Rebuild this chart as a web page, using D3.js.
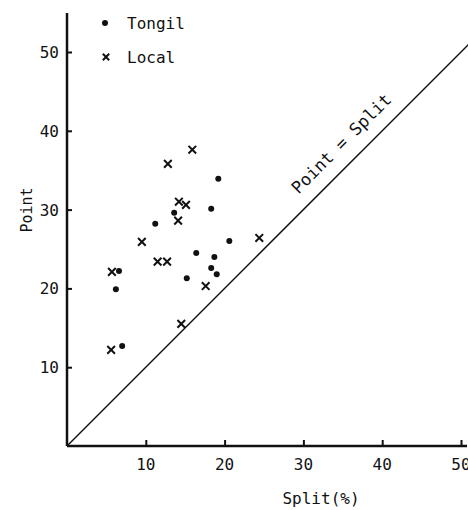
<!DOCTYPE html>
<html>
<head>
<meta charset="utf-8">
<script src="https://cdn.jsdelivr.net/npm/d3@7"></script>
<style>
  body { margin: 0; background: #fff; }
  text { font-family: "DejaVu Sans Mono", monospace; fill: #111; }
</style>
</head>
<body>
<div id="chart"></div>
<script>
// tick values
const xTicks = [10, 20, 30, 40, 50];
const yTicks = [10, 20, 30, 40, 50];

// Tongil varieties (split %, point)
const tongilSplit = [19.2, 18.3, 13.6, 11.2, 20.6, 16.4, 18.7, 6.6, 18.3, 19.0, 15.2, 6.2, 7.0];
const tongilPoint = [33.9, 30.1, 29.6, 28.2, 26.0, 24.5, 24.0, 22.2, 22.6, 21.8, 21.3, 19.9, 12.7];

// Local varieties
const localSplit = [15.9, 12.8, 14.2, 15.1, 14.1, 9.5, 11.5, 12.7, 5.7, 17.6, 14.5, 5.6, 24.4];
const localPoint = [37.6, 35.8, 31.0, 30.6, 28.6, 25.9, 23.4, 23.4, 22.1, 20.3, 15.5, 12.2, 26.4];

const W = 468, H = 510;

const svg = d3.select("#chart").append("svg")
  .attr("width", W)
  .attr("height", H);

// scales
const x = d3.scaleLinear().domain([0, 50]).range([67, 461]);
const y = d3.scaleLinear().domain([0, 50]).range([446, 52]);

const tongil = tongilSplit.map((d, i) => ({s: d, p: tongilPoint[i]}));
const local = localSplit.map((d, i) => ({s: d, p: localPoint[i]}));

// axes
const xAxis = d3.axisTop(x).tickValues(xTicks).tickSize(6).tickFormat("");
svg.append("g")
  .attr("transform", "translate(0," + y(0) + ")")
  .call(xAxis)
  .call(g => g.select(".domain").remove())
  .selectAll("line").attr("stroke", "#111").attr("stroke-width", 2);

svg.append("line")
  .attr("x1", x(0)).attr("x2", 467)
  .attr("y1", y(0)).attr("y2", y(0))
  .attr("stroke", "#111").attr("stroke-width", 2.5);

const yAxis = d3.axisRight(y).tickValues(yTicks).tickSize(5).tickFormat("");
svg.append("g")
  .attr("transform", "translate(" + x(0) + ",0)")
  .call(yAxis)
  .call(g => g.select(".domain").remove())
  .selectAll("line").attr("stroke", "#111").attr("stroke-width", 2);

svg.append("line")
  .attr("x1", x(0)).attr("x2", x(0))
  .attr("y1", y(0)).attr("y2", 13)
  .attr("stroke", "#111").attr("stroke-width", 2.5);

// tick labels
svg.selectAll(".xlab").data(xTicks).enter().append("text")
  .attr("x", d => x(d))
  .attr("y", y(0) + 24)
  .attr("text-anchor", "middle")
  .style("font-size", "16px")
  .text(d => d);

svg.selectAll(".ylab").data(yTicks).enter().append("text")
  .attr("x", x(0) - 8)
  .attr("y", d => y(d) + 6)
  .attr("text-anchor", "end")
  .style("font-size", "16px")
  .text(d => d);

// axis titles
svg.append("text")
  .attr("x", 321).attr("y", 504)
  .attr("text-anchor", "middle")
  .style("font-size", "16px")
  .text("Split(%)");

svg.append("text")
  .attr("transform", "translate(32,210)rotate(-90)")
  .attr("text-anchor", "middle")
  .style("font-size", "15px")
  .text("Point");

// Point = Split line
svg.append("line")
  .attr("x1", x(0)).attr("y1", y(0))
  .attr("x2", x(51)).attr("y2", y(51))
  .attr("stroke", "#111").attr("stroke-width", 1.5);

svg.append("text")
  .attr("transform", "translate(" + x(36.6) + "," + y(36.6) + ")rotate(-45)translate(0,-14)")
  .attr("text-anchor", "middle")
  .style("font-size", "17px")
  .text("Point = Split");

// marks
svg.selectAll(".dot").data(tongil).enter().append("circle")
  .attr("cx", d => x(d.s))
  .attr("cy", d => y(d.p))
  .attr("r", 3)
  .attr("fill", "#111");

const cross = d3.symbol().type(d3.symbolX).size(40);
svg.selectAll(".cross").data(local).enter().append("path")
  .attr("transform", d => "translate(" + x(d.s) + "," + y(d.p) + ")")
  .attr("d", cross)
  .attr("fill", "none")
  .attr("stroke", "#111")
  .attr("stroke-width", 2);

// legend
svg.append("circle").attr("cx", 105).attr("cy", 23).attr("r", 3).attr("fill", "#111");
svg.append("text").attr("x", 127).attr("y", 29).style("font-size", "16px").text("Tongil");
svg.append("path")
  .attr("transform", "translate(106,57)")
  .attr("d", d3.symbol().type(d3.symbolX).size(28))
  .attr("fill", "none").attr("stroke", "#111").attr("stroke-width", 2);
svg.append("text").attr("x", 127).attr("y", 63).style("font-size", "16px").text("Local");
</script>
</body>
</html>
